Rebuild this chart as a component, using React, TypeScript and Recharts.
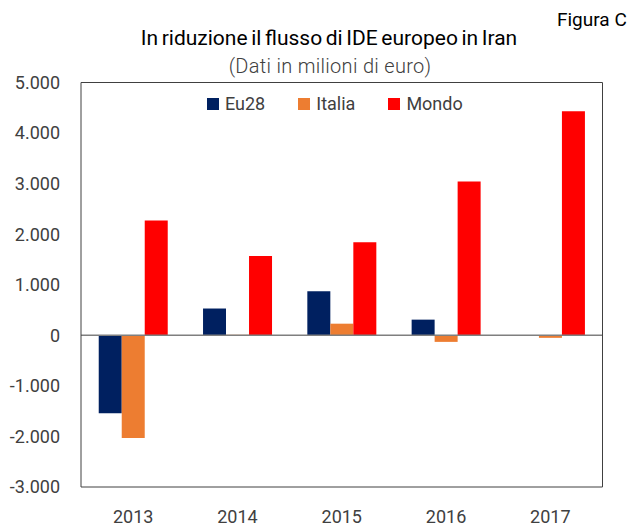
import React from 'react';
import { BarChart, Bar, XAxis, YAxis, ReferenceLine } from 'recharts';

const YEARS = ['2013', '2014', '2015', '2016', '2017'];
const EU28 = [-1540, 530, 870, 310, 0];
const ITALIA = [-2030, 10, 230, -130, -50];
const MONDO = [2270, 1570, 1840, 3040, 4430];
const Y_TICKS = [-3000, -2000, -1000, 0, 1000, 2000, 3000, 4000, 5000];

const SERIES = [
  { key: 'Eu28', color: '#002060' },
  { key: 'Italia', color: '#ED7D31' },
  { key: 'Mondo', color: '#FF0000' },
];

const data = YEARS.map((year, i) => ({
  year,
  Eu28: EU28[i],
  Italia: ITALIA[i],
  Mondo: MONDO[i],
}));

const FONT = 'Roboto, "Noto Sans", sans-serif';
const TEXT = '#404040';
const FRAME = '#404040';

const fmt = (v: number) => {
  const s = Math.abs(v).toString().replace(/\B(?=(\d{3})+(?!\d))/g, '.');
  return v < 0 ? '-' + s : s;
};

// legend as plain html, placed inside the plot like the original
const LegendBox = () => (
  <div style={{ position: 'absolute', left: 207, top: 93, display: 'flex', alignItems: 'center', fontFamily: FONT, fontSize: 18, color: TEXT }}>
    {SERIES.map((s, i) => (
      <div key={s.key} style={{ display: 'flex', alignItems: 'center', marginRight: i < 2 ? 33 : 0 }}>
        <span style={{ width: 12, height: 12, background: s.color, display: 'inline-block', marginRight: 6 }} />
        <span>{s.key}</span>
      </div>
    ))}
  </div>
);

export default function App() {
  return (
    <div style={{ position: 'absolute', left: 0, top: 0, width: 637, height: 526, background: '#fff' }}>
      <BarChart
        width={637}
        height={526}
        data={data}
        margin={{ top: 81.5, right: 33.5, left: 0, bottom: 0 }}
        barCategoryGap="17%"
        barGap={0}
      >
        <XAxis
          dataKey="year"
          height={39}
          tickSize={0}
          tickMargin={23}
          axisLine={{ stroke: FRAME }}
          tick={{ fill: TEXT, fontSize: 18, fontFamily: FONT }}
        />
        <XAxis xAxisId="top" dataKey="year" orientation="top" height={1} tick={false} tickLine={false} axisLine={{ stroke: FRAME }} />
        <YAxis
          width={81}
          domain={[-3000, 5000]}
          ticks={Y_TICKS}
          tickFormatter={fmt}
          tickSize={0}
          tickMargin={21}
          axisLine={{ stroke: FRAME }}
          tick={{ fill: TEXT, fontSize: 18, fontFamily: FONT }}
          interval={0}
        />
        <YAxis yAxisId="right" orientation="right" width={1} domain={[-3000, 5000]} tick={false} tickLine={false} axisLine={{ stroke: FRAME }} />
        {SERIES.map((s) => (
          <Bar key={s.key} dataKey={s.key} fill={s.color} isAnimationActive={false} />
        ))}
        <ReferenceLine y={0} stroke="#7f7f7f" strokeWidth={1.5} />
        <ReferenceLine y={5000} xAxisId="top" yAxisId="right" stroke={FRAME} />
      </BarChart>
      <LegendBox />
      <div style={{ position: 'absolute', left: 0, top: 25.5, width: 658, textAlign: 'center', fontFamily: FONT, fontSize: 21, fontWeight: 400, wordSpacing: -1.6, color: '#000' }}>
        In riduzione il flusso di IDE europeo in Iran
      </div>
      <div style={{ position: 'absolute', left: 0, top: 53.5, width: 660, textAlign: 'center', fontFamily: FONT, fontSize: 20, fontWeight: 300, letterSpacing: 0.3, color: TEXT }}>
        (Dati in milioni di euro)
      </div>
      <div style={{ position: 'absolute', left: 557, top: 8, fontFamily: FONT, fontSize: 19, fontWeight: 400, color: '#000' }}>
        Figura C
      </div>
    </div>
  );
}
